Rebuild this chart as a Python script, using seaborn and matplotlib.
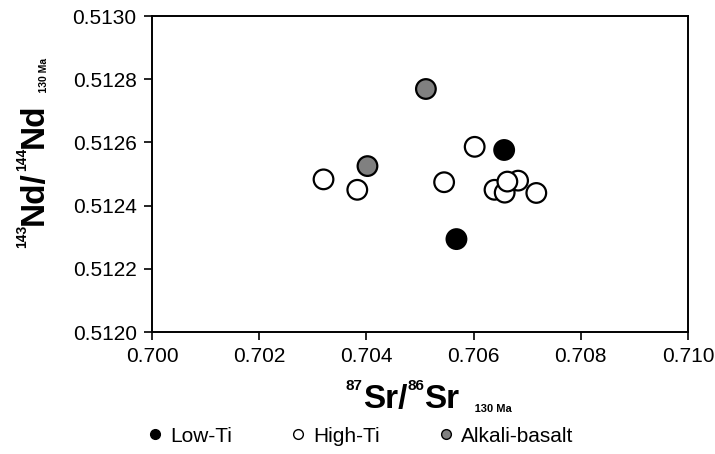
import matplotlib
matplotlib.use('Agg')
import matplotlib.pyplot as plt
from matplotlib.lines import Line2D
from matplotlib.transforms import offset_copy
import seaborn as sns
import pandas as pd

# isotope data
low_ti_sr = [0.70657, 0.70568]
low_ti_nd = [0.512576, 0.512294]
high_ti_sr = [0.70320, 0.70383, 0.70545, 0.70602, 0.70639, 0.70658, 0.70683, 0.70663, 0.70717]
high_ti_nd = [0.512483, 0.512450, 0.512474, 0.512586, 0.512450, 0.512441, 0.512479, 0.512476, 0.512440]
alkali_sr = [0.70511, 0.70402]
alkali_nd = [0.512769, 0.512525]

groups = ['Low-Ti', 'High-Ti', 'Alkali-basalt']
fills = {'Low-Ti': 'black', 'High-Ti': 'white', 'Alkali-basalt': '#808080'}

df = pd.concat([
    pd.DataFrame({'sr': high_ti_sr, 'nd': high_ti_nd, 'group': 'High-Ti'}),
    pd.DataFrame({'sr': low_ti_sr, 'nd': low_ti_nd, 'group': 'Low-Ti'}),
    pd.DataFrame({'sr': alkali_sr, 'nd': alkali_nd, 'group': 'Alkali-basalt'}),
])

sns.set_style('ticks')
plt.rcParams['font.family'] = ['Liberation Sans', 'DejaVu Sans']
plt.rcParams['text.color'] = 'black'

fig = plt.figure(figsize=(7.15, 4.54), dpi=100)
ax = fig.add_axes([152 / 715, 1 - 332 / 454, (688 - 152) / 715, (332 - 16) / 454])

sns.scatterplot(data=df, x='sr', y='nd', hue='group', palette=fills, s=200,
                edgecolor='black', linewidth=1.6, legend=False, ax=ax, zorder=3)

ax.set_xlim(0.700, 0.710)
ax.set_ylim(0.5120, 0.5130)
ax.set_xticks([0.700, 0.702, 0.704, 0.706, 0.708, 0.710])
ax.set_yticks([0.5120, 0.5122, 0.5124, 0.5126, 0.5128, 0.5130])
ax.set_xticklabels(['0.700', '0.702', '0.704', '0.706', '0.708', '0.710'])
ax.set_yticklabels(['0.5120', '0.5122', '0.5124', '0.5126', '0.5128', '0.5130'])
ax.tick_params(labelsize=15, width=1.2, length=6, direction='out', colors='black',
               labelcolor='black', pad=5)
for sp in ax.spines.values():
    sp.set_linewidth(1.4)
    sp.set_color('black')
ax.set_xlabel('')
ax.set_ylabel('')


def rich_label(x, y, parts, vertical=False):
    # parts: (text, fontsize, baseline shift in px); centred on figure point (x, y)
    renderer = fig.canvas.get_renderer()
    widths = []
    for s, size, dy in parts:
        t = fig.text(0, 0, s, fontsize=size, fontweight='bold')
        widths.append(t.get_window_extent(renderer).width)
        t.remove()
    pos = -sum(widths) / 2
    for (s, size, dy), w in zip(parts, widths):
        if vertical:
            tr = offset_copy(fig.transFigure, fig=fig, x=-dy, y=pos, units='dots')
            fig.text(x, y, s, fontsize=size, fontweight='bold', transform=tr, rotation=90,
                     rotation_mode='anchor', ha='left', va='baseline', color='black')
        else:
            tr = offset_copy(fig.transFigure, fig=fig, x=pos, y=dy, units='dots')
            fig.text(x, y, s, fontsize=size, fontweight='bold', transform=tr,
                     ha='left', va='baseline', color='black')
        pos += w


rich_label(429 / 715, 1 - 408 / 454,
           [('87', 11, 18), ('Sr/', 24, 0), ('86', 11, 18), ('Sr', 24, 0), ('     130 Ma', 8, -4)])
rich_label(43 / 715, 1 - 153 / 454,
           [('143', 10, 17), ('Nd/', 24, 0), ('144', 10, 17), ('Nd', 24, 0), ('    130 Ma', 7.5, -4)],
           vertical=True)

handles = [Line2D([], [], marker='o', linestyle='', markersize=7, markerfacecolor=fills[g],
                  markeredgecolor='black', markeredgewidth=1.0) for g in groups]
fig.legend(handles, groups, loc='center', bbox_to_anchor=(0.505, 1 - 436 / 454), ncol=3,
           frameon=False, fontsize=15, handlelength=0.6, handletextpad=0.4,
           columnspacing=2.9, borderpad=0, labelcolor='black')

fig.savefig('out.png', dpi=100)
